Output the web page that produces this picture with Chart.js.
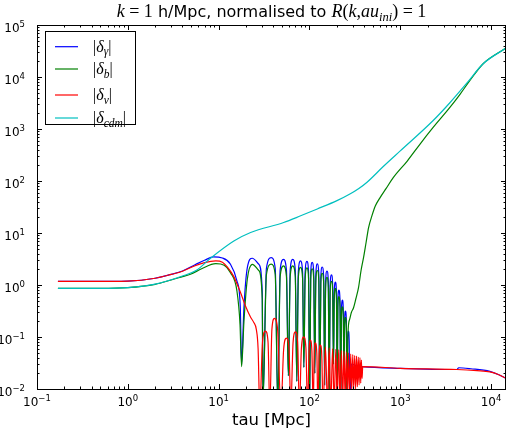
<!DOCTYPE html>
<html>
<head>
<meta charset="utf-8">
<script src="https://cdn.jsdelivr.net/npm/chart.js@4.4.0/dist/chart.umd.min.js"></script>
<style>
html, body { margin: 0; padding: 0; background: #fff; }
canvas { display: block; }
</style>
</head>
<body>
<canvas id="myChart" width="507" height="430"></canvas>
<script>
// axis decades that get a label
var xDecades = [-1, 0, 1, 2, 3, 4];
var yDecades = [-2, -1, 0, 1, 2, 3, 4, 5];
var xMin = 0.1, xMax = 14600;
var yMin = 0.01, yMax = 1e5;

// legend subscripts and colours (delta_gamma, delta_b, delta_nu, delta_cdm)
var seriesNames = ['\u03b3', 'b', '\u03bd', 'cdm'];
var seriesColors = ['#0000ff', '#008000', '#ff0000', '#00bfbf'];

// |delta_gamma| : tau [Mpc] and value
var gammaTau = [0.17, 0.4, 1.0, 2.0, 3.0, 4.0, 5.5, 7.0, 8.8, 11.0, 13.5, 15.9, 17.3, 17.9,
  19.0, 20.7, 23.5, 27.7, 30.2, 30.8,
  33.6, 37.9, 42.0, 44.8,
  47.6, 51.8, 55.8, 58.6,
  61.4, 65.5, 69.8, 72.6,
  75.4, 79.7, 84.0, 86.8,
  89.6, 93.9, 97.8, 100.5,
  103.3, 107, 111.5, 114.5,
  117.6, 122, 126.8, 130,
  133.4, 138, 143.6, 147,
  150.6, 156, 161.4, 165,
  168.8, 175, 180.2, 184,
  187.6, 193, 198.4, 202,
  205.6, 211, 217, 221,
  224.8, 231, 236, 240,
  243.8, 249, 255, 259,
  262.8, 269, 274, 278,
  290, 330, 383, 1000, 4200, 4400, 6000, 9700, 12000, 14600];
var gammaVal = [1.17, 1.17, 1.19, 1.35, 1.6, 1.86, 2.45, 3.0, 3.46, 3.3, 2.5, 1.2, 0.4, 0.03,
  0.37, 2.15, 3.27, 2.5, 0.77, 0.006,
  2.1, 3.36, 2.1, 0.005,
  1.95, 3.10, 1.95, 0.018,
  1.95, 3.10, 1.95, 0.014,
  1.8, 2.90, 1.8, 0.026,
  1.75, 2.84, 1.75, 0.005,
  1.7, 2.72, 1.7, 0.02,
  1.6, 2.54, 1.6, 0.005,
  1.4, 2.22, 1.4, 0.012,
  1.15, 1.86, 1.15, 0.005,
  0.97, 1.56, 0.97, 0.03,
  0.7, 1.14, 0.7, 0.008,
  0.5, 0.80, 0.5, 0.005,
  0.32, 0.51, 0.32, 0.02,
  0.2, 0.316, 0.2, 0.005,
  0.08, 0.13, 0.08, 0.004,
  0.03, 0.028, 0.027, 0.025, 0.0237, 0.0256, 0.0245, 0.0218, 0.019, 0.016];

// |delta_b|
var baryonTau = [0.17, 0.5, 1.0, 2.0, 3.0, 4.0, 4.9, 6.5, 9.3, 11.5, 13.5, 15.9, 17.2, 17.9,
  19.0, 20.7, 23.5, 27.7, 30.2, 30.8,
  33.6, 37.9, 42.0, 44.8,
  47.6, 51.8, 55.8, 58.6,
  61.4, 65.5, 69.8, 72.6,
  75.4, 79.7, 84.0, 86.8,
  89.6, 93.9, 97.8, 100.5,
  103.3, 107, 111.5, 114.5,
  117.6, 122, 126.8, 130,
  133.4, 138, 143.6, 147,
  150.6, 156, 161.4, 165,
  168.8, 175, 180.2, 184,
  187.6, 193, 198.4, 202,
  205.6, 211, 217, 221,
  224.8, 231, 236, 240,
  243.8, 249, 255, 259,
  266, 277, 290, 306, 325, 347, 370, 394, 420, 448, 490, 531, 600, 700, 837,
  1200, 1660, 2290, 3520, 4570, 5800, 8180, 14600];
var baryonVal = [0.86, 0.86, 0.89, 1.03, 1.25, 1.45, 1.61, 2.05, 2.57, 2.4, 1.73, 0.77, 0.175, 0.027,
  0.2, 1.3, 2.5, 1.9, 0.55, 0.006,
  1.58, 2.52, 1.58, 0.005,
  1.46, 2.33, 1.46, 0.018,
  1.46, 2.33, 1.46, 0.014,
  1.35, 2.18, 1.35, 0.026,
  1.31, 2.13, 1.31, 0.005,
  1.28, 2.04, 1.28, 0.02,
  1.2, 1.9, 1.2, 0.005,
  1.05, 1.67, 1.05, 0.012,
  0.86, 1.4, 0.86, 0.005,
  0.73, 1.17, 0.73, 0.03,
  0.53, 0.86, 0.53, 0.008,
  0.38, 0.6, 0.38, 0.005,
  0.24, 0.38, 0.24, 0.02,
  0.15, 0.24, 0.15, 0.004,
  0.12, 0.218, 0.3, 0.365, 0.55, 0.89, 1.9, 3.36, 6.5, 12.7, 22, 33, 48, 72, 116,
  245, 520, 1060, 2600, 4700, 8400, 18000, 36000];

// |delta_nu|
var nuTau = [0.17, 0.4, 1.0, 2.0, 3.0, 4.0, 5.5, 7.0, 9.3, 11.0, 12.5, 14.7, 16.0, 17.5,
  19.8, 22.5, 24.4, 26.0, 27.2, 28.4,
  30.4, 32.8, 35.0, 36.6,
  38.6, 41.2, 44.6, 48.5,
  52.0, 55.8, 59.6, 62.3,
  66.0, 70.1, 74.2, 77.5,
  81.6, 86.5, 91.4, 95.5,
  99.0, 102.5, 106.4, 110,
  112.8, 116, 120.6, 124,
  127.6, 132, 136.8, 141,
  150, 158, 165, 172, 180, 187, 195, 202, 210, 217, 225, 232, 240, 247,
  255, 262, 270, 277, 285, 292, 300, 307, 315, 322, 330, 337, 345, 352,
  360, 367, 373, 380, 386, 1000, 4200, 7000, 9700, 12000, 14600];
var nuVal = [1.17, 1.17, 1.19, 1.35, 1.6, 1.84, 2.35, 2.7, 2.9, 2.75, 2.2, 1.45, 1.03, 0.7,
  0.39, 0.24, 0.19, 0.14, 0.06, 0.004,
  0.08, 0.13, 0.08, 0.004,
  0.14, 0.228, 0.14, 0.004,
  0.058, 0.095, 0.058, 0.004,
  0.078, 0.126, 0.078, 0.004,
  0.062, 0.101, 0.062, 0.004,
  0.054, 0.087, 0.054, 0.004,
  0.048, 0.077, 0.048, 0.004,
  0.043, 0.070, 0.043, 0.004,
  0.064, 0.005, 0.062, 0.005, 0.060, 0.005, 0.058, 0.006, 0.057, 0.006, 0.055, 0.006, 0.053, 0.007,
  0.051, 0.007, 0.049, 0.008, 0.047, 0.009, 0.046, 0.010, 0.044, 0.010, 0.043, 0.011, 0.041, 0.012,
  0.040, 0.013, 0.036, 0.016, 0.027, 0.025, 0.0237, 0.0225, 0.0213, 0.019, 0.016];

// |delta_cdm|
var cdmTau = [0.17, 0.5, 1.0, 2.0, 4.0, 5.7, 8.2, 14.7, 22.5, 52, 80, 122, 201, 282, 350, 434,
  650, 1000, 2290, 3520, 5460, 8180, 14600];
var cdmVal = [0.86, 0.86, 0.89, 1.04, 1.49, 1.92, 3.3, 7.0, 10.2, 15.9, 21.4, 29, 42, 57, 72, 96,
  190, 380, 1440, 3200, 7800, 18000, 36000];

function toPoints(tau, val) {
    return tau.map(function(t, i) { return {x: t, y: val[i]}; });
}

var serif = '"Liberation Serif", "DejaVu Serif", serif';
var sans = '"DejaVu Sans", sans-serif';

// draws a row of [text, font, dy] pieces starting at x
function drawRuns(ctx, runs, x, baseline, centred) {
    var total = 0;
    runs.forEach(function(r) { ctx.font = r[1]; r.w = ctx.measureText(r[0]).width; total += r.w; });
    if (centred) x = x - total / 2;
    runs.forEach(function(r) {
        ctx.font = r[1];
        ctx.fillText(r[0], x, baseline + (r[2] || 0));
        x += r.w;
    });
}

var axesPlugin = {
    id: 'mplAxes',
    afterDraw: function(chart) {
        var ctx = chart.ctx, a = chart.chartArea;
        var xs = chart.scales.x, ys = chart.scales.y;
        ctx.save();
        ctx.strokeStyle = '#000';
        ctx.fillStyle = '#000';
        ctx.lineWidth = 1;
        ctx.strokeRect(a.left + 0.5, a.top + 0.5, a.right - a.left - 1, a.bottom - a.top);

        ctx.textAlign = 'left';
        ctx.textBaseline = 'alphabetic';
        var minus = '\u2212';

        //x ticks, inward on bottom and top
        xDecades.forEach(function(e) {
            for (var s = 1; s <= 9; s++) {
                var v = s * Math.pow(10, e);
                if (v < xMin * 0.999 || v > xMax) continue;
                var px = Math.round(xs.getPixelForValue(v)) + 0.5;
                var len = s === 1 ? 5 : 2.5;
                ctx.beginPath();
                ctx.moveTo(px, a.bottom); ctx.lineTo(px, a.bottom - len);
                ctx.moveTo(px, a.top); ctx.lineTo(px, a.top + len);
                ctx.stroke();
            }
            var p = xs.getPixelForValue(Math.pow(10, e));
            var ex = e < 0 ? minus + (-e) : String(e);
            drawRuns(ctx, [['10', '12px ' + sans], [ex, '8.5px ' + sans, -5]], p, a.bottom + 17, true);
        });

        //y ticks, inward on left and right
        yDecades.forEach(function(e) {
            for (var s = 1; s <= 9; s++) {
                var v = s * Math.pow(10, e);
                if (v < yMin * 0.999 || v > yMax * 1.001) continue;
                var py = Math.round(ys.getPixelForValue(v)) + 0.5;
                var len = s === 1 ? 5 : 2.5;
                ctx.beginPath();
                ctx.moveTo(a.left, py); ctx.lineTo(a.left + len, py);
                ctx.moveTo(a.right, py); ctx.lineTo(a.right - len, py);
                ctx.stroke();
            }
            var p = ys.getPixelForValue(Math.pow(10, e));
            var ex = e < 0 ? minus + (-e) : String(e);
            ctx.font = '8.5px ' + sans;
            var w2 = ctx.measureText(ex).width;
            ctx.font = '12px ' + sans;
            var w1 = ctx.measureText('10').width;
            drawRuns(ctx, [['10', '12px ' + sans], [ex, '8.5px ' + sans, -5]], 25 - w1 - w2, p + 6.5, false);
        });

        //x axis label
        drawRuns(ctx, [['tau [Mpc]', '16.5px ' + sans]], (a.left + a.right) / 2, 424.5, true);

        //title
        var it = 'italic 18px ' + serif, rm = '18px ' + serif, sub = 'italic 12.5px ' + serif;
        drawRuns(ctx, [['k', it], [' = 1', rm], [' h/Mpc, normalised to ', '16px ' + sans],
            ['R', it], ['(', rm], ['k', it], [',', rm], ['au', it], ['ini', sub, 3.5], [')', rm],
            [' = 1', rm]], (a.left + a.right) / 2, 17, true);

        //legend
        ctx.fillStyle = '#fff';
        ctx.fillRect(45.5, 31.5, 90, 93);
        ctx.strokeRect(45.5, 31.5, 90, 93);
        var rows = [46.7, 69, 95, 118];
        var lit = 'italic 16px ' + serif, lrm = '16px ' + serif, lsub = 'italic 11.5px ' + serif;
        seriesNames.forEach(function(name, i) {
            ctx.strokeStyle = seriesColors[i];
            ctx.lineWidth = 1.2;
            ctx.beginPath();
            ctx.moveTo(55, rows[i]); ctx.lineTo(78, rows[i]);
            ctx.stroke();
            ctx.fillStyle = '#000';
            drawRuns(ctx, [['|', lrm], ['\u03b4', lit], [name, lsub, 3.5], ['|', lrm]], 93, rows[i] + 5, false);
        });
        ctx.restore();
    }
};

function makeSet(label, tau, val, color, order) {
    return {
        label: label,
        data: toPoints(tau, val),
        borderColor: color,
        backgroundColor: color,
        borderWidth: 1.2,
        pointRadius: 0,
        fill: false,
        tension: 0.3,
        cubicInterpolationMode: 'monotone',
        order: order
    };
}

var ctx = document.getElementById('myChart');
var myChart = new Chart(ctx, {
    type: 'line',
    data: {
        datasets: [
            makeSet('|\u03b4\u03b3|', gammaTau, gammaVal, seriesColors[0], 4),
            makeSet('|\u03b4b|', baryonTau, baryonVal, seriesColors[1], 3),
            makeSet('|\u03b4\u03bd|', nuTau, nuVal, seriesColors[2], 2),
            makeSet('|\u03b4cdm|', cdmTau, cdmVal, seriesColors[3], 1)
        ]
    },
    options: {
        responsive: false,
        animation: false,
        devicePixelRatio: 1,
        events: [],
        layout: { padding: { left: 0, top: 25, right: 1, bottom: 0 } },
        plugins: {
            legend: { display: false },
            title: { display: false },
            tooltip: { enabled: false }
        },
        scales: {
            x: {
                type: 'logarithmic',
                min: xMin,
                max: xMax,
                grid: { display: false },
                border: { display: false },
                ticks: { display: false },
                afterFit: function(scale) { scale.height = 41; }
            },
            y: {
                type: 'logarithmic',
                min: yMin,
                max: yMax,
                grid: { display: false },
                border: { display: false },
                ticks: { display: false },
                afterFit: function(scale) { scale.width = 37; }
            }
        }
    },
    plugins: [axesPlugin]
});
</script>
</body>
</html>
